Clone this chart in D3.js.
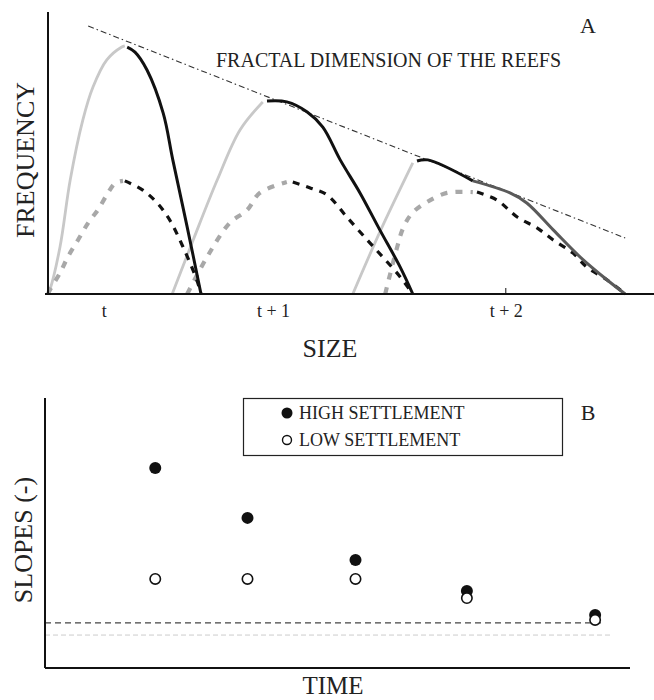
<!DOCTYPE html>
<html><head><meta charset="utf-8">
<script src="https://cdn.jsdelivr.net/npm/d3@7"></script>
<style>body{margin:0;background:#fff}svg{display:block;font-family:"Liberation Serif","Times New Roman",serif}</style>
</head><body><svg id="c" width="654" height="700"></svg>
<script>
// ---------- Panel A data (size, frequency in arbitrary units) ----------
const tickLabelsA = ["t", "t + 1", "t + 2"];
const tickValuesA = [0.93, 3.75, 7.63];
const fractalLine = [[0.67, 9.57], [9.62, 2.0]];
// cohort t
const riseSolid1 = [[0,0],[0.03,0.14],[0.2,1.68],[0.37,4.07],[0.58,6.21],[0.75,7.39],[0.98,8.36],[1.23,8.82],[1.28,8.86]];
const fallSolid1 = [[1.32,8.82],[1.45,8.64],[1.65,8.0],[1.92,6.46],[2.08,4.79],[2.32,2.39],[2.55,0]];
const riseDash1 = [[0,0],[0.03,0.14],[0.2,0.75],[0.33,1.32],[0.5,1.93],[0.67,2.54],[0.83,3.0],[1.0,3.61],[1.12,3.96],[1.25,4.04]];
const fallDash1 = [[1.28,4.04],[1.58,3.71],[1.82,3.25],[2.03,2.64],[2.25,1.68],[2.48,0.5],[2.55,0]];
// cohort t+1
const riseSolid2 = [[2.07,0],[2.42,1.93],[2.82,4.07],[3.2,5.86],[3.58,6.86]];
const fallSolid2 = [[3.65,6.89],[3.98,6.86],[4.32,6.5],[4.58,5.96],[4.87,4.79],[5.2,3.61],[5.53,2.29],[5.87,0.96],[6.08,0]];
const riseDash2 = [[2.32,0],[2.65,1.32],[3.03,2.54],[3.32,3.0],[3.53,3.61],[3.98,4.0]];
const fallDash2 = [[4.08,4.0],[4.37,3.79],[4.65,3.54],[4.98,2.75],[5.32,1.93],[5.58,1.32],[5.87,0.61],[6.08,0]];
// cohort t+2
const riseSolid3 = [[5.08,0],[5.53,2.21],[6.08,4.68]];
const fallSolid3 = [[6.15,4.75],[6.33,4.79],[7.08,4.04]];
const fallSolid3b = [[7.08,4.04],[7.7,3.61],[7.98,3.25],[8.42,2.29],[8.87,1.32],[9.32,0.5],[9.62,0]];
const riseDash3 = [[5.62,0],[5.82,1.68],[5.92,2.36],[6.07,2.89],[6.32,3.29],[6.65,3.61],[7.08,3.64]];
const fallDash3 = [[7.15,3.64],[7.48,3.36],[7.82,2.75],[8.15,2.36],[8.42,1.93],[8.75,1.46],[8.98,0.96],[9.32,0.5],[9.62,0]];

// ---------- Panel B data ----------
const timeB = [0.98, 1.80, 2.76, 3.75, 4.89];
const highSettlement = [7.41, 5.56, 4.0, 2.85, 1.96];
const lowSettlement = [3.30, 3.30, 3.30, 2.59, 1.78];
const dashedLevel = 1.67;
const dottedLevel = 1.22;
const legendLabels = ["HIGH SETTLEMENT", "LOW SETTLEMENT"];

const svg = d3.select("#c");
const ink = "#111";

// ---------- Panel A ----------
const xA = d3.scaleLinear().domain([0, 10]).range([48, 648]);
const yA = d3.scaleLinear().domain([0, 10]).range([294, 14]);
const gA = svg.append("g");
const lineA = d3.line().x(d => xA(d[0])).y(d => yA(d[1])).curve(d3.curveCatmullRom.alpha(0.5));

// fractal dimension dash-dot line
gA.append("path").attr("d", d3.line().x(d => xA(d[0])).y(d => yA(d[1]))(fractalLine))
  .attr("fill","none").attr("stroke","#333").attr("stroke-width",1.1).attr("stroke-dasharray","6,3,1.5,3");

const styles = {
  riseSolid: {stroke:"#c8c8c8", w:2.8, dash:null},
  fallSolid: {stroke:"#111", w:3, dash:null},
  fallSolidB:{stroke:"#5a5a5a", w:3, dash:null},
  riseDash:  {stroke:"#a8a8a8", w:4.2, dash:"7,8"},
  fallDash:  {stroke:"#111", w:3.2, dash:"7,7"}
};
const series = [
  [riseSolid1,"riseSolid"],[riseSolid2,"riseSolid"],[riseSolid3,"riseSolid"],
  [riseDash1,"riseDash"],[riseDash2,"riseDash"],[riseDash3,"riseDash"],
  [fallDash1,"fallDash"],[fallDash2,"fallDash"],[fallDash3,"fallDash"],
  [fallSolid3b,"fallSolidB"],
  [fallSolid1,"fallSolid"],[fallSolid2,"fallSolid"],[fallSolid3,"fallSolid"]
];
series.forEach(([data, key]) => {
  const s = styles[key];
  gA.append("path").attr("d", lineA(data)).attr("fill","none")
    .attr("stroke", s.stroke).attr("stroke-width", s.w)
    .attr("stroke-dasharray", s.dash).attr("stroke-linejoin","round");
});

// axes A
gA.append("line").attr("x1",xA(0)).attr("x2",xA(0)).attr("y1",12).attr("y2",yA(0))
  .attr("stroke",ink).attr("stroke-width",2);
const axA = gA.append("g").attr("transform",`translate(0,${yA(0)})`)
  .call(d3.axisBottom(xA).tickValues(tickValuesA).tickFormat((d,i)=>tickLabelsA[i]).tickSize(0).tickPadding(10));
axA.select(".domain").attr("d", `M${xA(0)-3},0H654`).attr("stroke",ink).attr("stroke-width",2);
axA.selectAll("text").attr("font-size",18).attr("font-family","Liberation Serif").attr("fill","#222");
gA.append("line").attr("x1",xA(tickValuesA[2])).attr("x2",xA(tickValuesA[2]))
  .attr("y1",yA(0)).attr("y2",yA(0)-6).attr("stroke",ink).attr("stroke-width",1);

gA.append("text").attr("x",330).attr("y",357).attr("text-anchor","middle")
  .attr("font-size",26).attr("fill","#222").text("SIZE");
gA.append("text").attr("transform","translate(34,160) rotate(-90)").attr("text-anchor","middle")
  .attr("font-size",26).attr("fill","#222").text("FREQUENCY");
gA.append("text").attr("x",216).attr("y",67).attr("font-size",20).attr("fill","#222")
  .text("FRACTAL DIMENSION OF THE REEFS");
gA.append("text").attr("x",588).attr("y",33).attr("text-anchor","middle")
  .attr("font-size",22).attr("fill","#222").text("A");

// ---------- Panel B ----------
const xB = d3.scaleLinear().domain([0, 5.2]).range([45, 630]);
const yB = d3.scaleLinear().domain([0, 10]).range([668, 398]);
const gB = svg.append("g");

gB.append("line").attr("x1",xB(0)).attr("x2",605).attr("y1",yB(dashedLevel)).attr("y2",yB(dashedLevel))
  .attr("stroke","#444").attr("stroke-width",1.2).attr("stroke-dasharray","6,4");
gB.append("line").attr("x1",xB(0)).attr("x2",610).attr("y1",yB(dottedLevel)).attr("y2",yB(dottedLevel))
  .attr("stroke","#ccc").attr("stroke-width",1).attr("stroke-dasharray","5,3");

gB.append("line").attr("x1",xB(0)).attr("x2",xB(0)).attr("y1",398).attr("y2",yB(0))
  .attr("stroke",ink).attr("stroke-width",2);
gB.append("line").attr("x1",xB(0)).attr("x2",xB(5.2)).attr("y1",yB(0)).attr("y2",yB(0))
  .attr("stroke",ink).attr("stroke-width",2.2);

gB.selectAll("circle.high").data(timeB).enter().append("circle")
  .attr("cx",d=>xB(d)).attr("cy",(d,i)=>yB(highSettlement[i])).attr("r",6).attr("fill",ink);
gB.selectAll("circle.low").data(timeB).enter().append("circle")
  .attr("cx",d=>xB(d)).attr("cy",(d,i)=>yB(lowSettlement[i])).attr("r",5.2)
  .attr("fill","#fff").attr("stroke",ink).attr("stroke-width",1.6);

// legend
gB.append("rect").attr("x",243.5).attr("y",398.5).attr("width",319).attr("height",57)
  .attr("fill","#fff").attr("stroke","#222").attr("stroke-width",1.2);
gB.append("circle").attr("cx",287).attr("cy",413).attr("r",5.5).attr("fill",ink);
gB.append("circle").attr("cx",287).attr("cy",440).attr("r",4.5).attr("fill","#fff").attr("stroke",ink).attr("stroke-width",1.4);
legendLabels.forEach((t,i)=>{
  gB.append("text").attr("x",299).attr("y",419+i*27).attr("font-size",18).attr("fill","#222").text(t);
});
gB.append("text").attr("x",588).attr("y",420).attr("text-anchor","middle")
  .attr("font-size",22).attr("fill","#222").text("B");
gB.append("text").attr("transform","translate(32,540) rotate(-90)").attr("text-anchor","middle")
  .attr("font-size",26).attr("fill","#222").text("SLOPES (-)");
gB.append("text").attr("x",333).attr("y",694).attr("text-anchor","middle")
  .attr("font-size",25).attr("fill","#222").text("TIME");
</script></body></html>
